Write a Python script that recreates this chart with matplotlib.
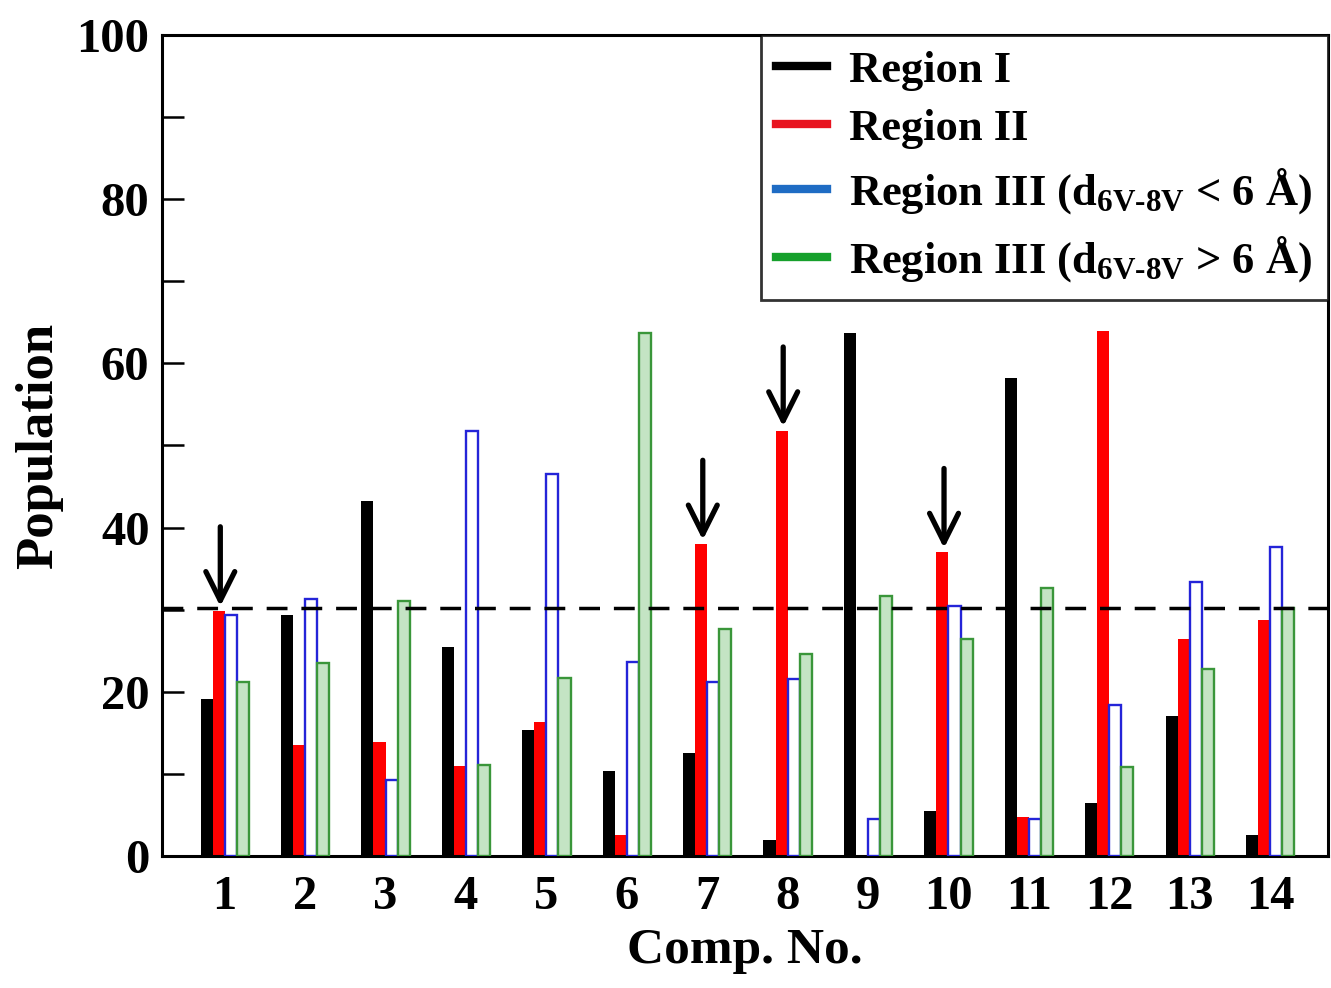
import matplotlib
matplotlib.use("Agg")
import matplotlib.pyplot as plt
import numpy as np
from matplotlib.lines import Line2D
from matplotlib.ticker import MultipleLocator

plt.rcParams['font.family'] = ['Liberation Serif', 'DejaVu Serif']
plt.rcParams['font.weight'] = 'bold'
plt.rcParams['mathtext.fontset'] = 'custom'
plt.rcParams['mathtext.rm'] = 'Liberation Serif:bold'
plt.rcParams['mathtext.bf'] = 'Liberation Serif:bold'
plt.rcParams['mathtext.it'] = 'Liberation Serif:bold'

compounds = ['1', '2', '3', '4', '5', '6', '7', '8', '9', '10', '11', '12', '13', '14']
region1 = [19.1, 29.4, 43.3, 25.4, 15.4, 10.4, 12.5, 1.9, 63.7, 5.5, 58.2, 6.4, 17.1, 2.6]
region2 = [29.9, 13.5, 13.9, 11.0, 16.3, 2.5, 38.0, 51.8, 0.0, 37.0, 4.8, 64.0, 26.4, 28.7]
region3_close = [29.4, 31.3, 9.3, 51.8, 46.5, 23.6, 21.2, 21.5, 4.5, 30.5, 4.5, 18.4, 33.4, 37.6]
region3_far = [21.2, 23.5, 31.0, 11.1, 21.7, 63.7, 27.7, 24.6, 31.7, 26.4, 32.6, 10.8, 22.8, 30.2]
threshold = 30.2
arrow_compounds = ['1', '7', '8', '10']

legend_labels = ['Region I', 'Region II',
                 r'Region III (d$_{\mathbf{6V\text{-}8V}}$ < 6 Å)',
                 r'Region III (d$_{\mathbf{6V\text{-}8V}}$ > 6 Å)']

W, H = 1331, 988
fig = plt.figure(figsize=(W / 100, H / 100), dpi=100)
ax = fig.add_axes([162 / W, 132 / H, (1328 - 162) / W, (856 - 35) / H])

x = np.arange(1, len(compounds) + 1)
w = 0.15
ax.bar(x - 1.5 * w, region1, width=w, color='black', linewidth=0, zorder=2)
ax.bar(x - 0.5 * w, region2, width=w, color='#ff0000', linewidth=0, zorder=2)
ax.bar(x + 0.5 * w, region3_close, width=w, facecolor='white', edgecolor='#2424d8', linewidth=1.7, zorder=3)
ax.bar(x + 1.5 * w, region3_far, width=w, facecolor='#c4e4c4', edgecolor='#3a963a', linewidth=1.7, zorder=3)

ax.axhline(threshold, color='black', linestyle=(0, (6, 4)), linewidth=2.5, zorder=4)

for c in arrow_compounds:
    i = compounds.index(c)
    xi = x[i] - 0.5 * w + 0.02
    top = region2[i]
    ax.annotate('', xy=(xi, top + 0.5), xytext=(xi, top + 10.2),
                arrowprops=dict(arrowstyle='->', lw=3.8, color='black', mutation_scale=52,
                                shrinkA=0, shrinkB=0), zorder=5)

ax.set_xlim(0.22, 14.72)
ax.set_ylim(0, 100)
ax.set_xticks(x)
ax.set_xticklabels(compounds)
ax.yaxis.set_major_locator(MultipleLocator(20))
ax.yaxis.set_minor_locator(MultipleLocator(10))
ax.tick_params(axis='y', which='both', direction='in', length=16, width=1.8, labelsize=35, pad=9)
ax.tick_params(axis='x', which='both', length=0, labelsize=35, pad=14)
for lab in ax.get_xticklabels() + ax.get_yticklabels():
    lab.set_fontweight('bold')
for s in ax.spines.values():
    s.set_linewidth(2.2)

ax.set_xlabel('Comp. No.', fontsize=37, fontweight='bold', labelpad=6)
ax.set_ylabel('Population', fontsize=38, fontweight='bold', labelpad=10)

handles = [Line2D([0], [0], color=c, lw=6) for c in ['black', '#e81420', '#1f6cc4', '#16a02c']]
leg = ax.legend(handles, legend_labels, loc='upper right', borderaxespad=0, fancybox=False,
                frameon=True, edgecolor='black', fontsize=32, handlelength=1.15,
                handletextpad=0.5, labelspacing=0.4, borderpad=0.35)
leg.get_frame().set_linewidth(2.0)
leg.set_zorder(6)
for t in leg.get_texts():
    t.set_fontweight('bold')

fig.savefig('out.png', dpi=100)
